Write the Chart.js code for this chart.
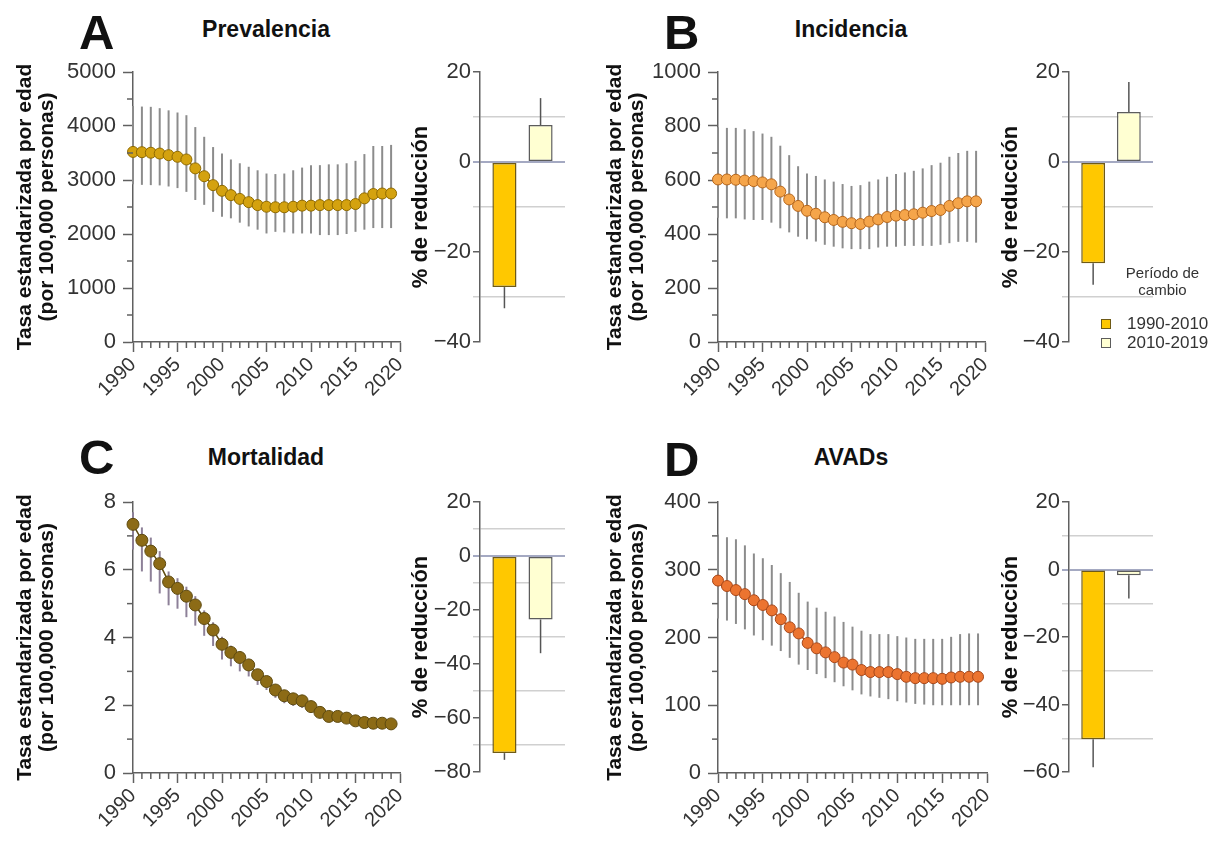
<!DOCTYPE html>
<html>
<head>
<meta charset="utf-8">
<script src="https://cdn.jsdelivr.net/npm/chart.js@4.4.1/dist/chart.umd.min.js"></script>
<style>
  body { margin: 0; background: #fff; width: 1225px; height: 846px; position: relative; overflow: hidden;
         font-family: 'Liberation Sans', Arial, Helvetica, sans-serif; }
  canvas { position: absolute; }
  .letter { position: absolute; font-weight: bold; font-size: 49px; line-height: 1; color: #111; }
  .title { position: absolute; width: 240px; text-align: center; font-weight: bold; font-size: 23px; line-height: 1; color: #111; }
  #legend { position: absolute; left: 1100px; top: 264px; width: 125px; color: #333; }
  #legend .head { text-align: center; font-size: 15px; line-height: 17px; margin-bottom: 16px; }
  #legend .row { display: flex; align-items: center; font-size: 17px; line-height: 19px; }
  #legend .box { width: 8px; height: 8px; border: 1px solid #777; margin: 0 16px 0 1px; }
</style>
</head>
<body>

<div class="letter" style="left:79px;top:8px">A</div>
<div class="letter" style="left:664px;top:8px">B</div>
<div class="letter" style="left:79px;top:433px">C</div>
<div class="letter" style="left:664px;top:435px">D</div>

<div class="title" style="left:146px;top:18px">Prevalencia</div>
<div class="title" style="left:731px;top:18px">Incidencia</div>
<div class="title" style="left:146px;top:446px">Mortalidad</div>
<div class="title" style="left:731px;top:446px">AVADs</div>

<canvas id="lineA"></canvas>
<canvas id="barA"></canvas>
<canvas id="lineB"></canvas>
<canvas id="barB"></canvas>
<canvas id="lineC"></canvas>
<canvas id="barC"></canvas>
<canvas id="lineD"></canvas>
<canvas id="barD"></canvas>

<div id="legend"></div>

<script>
// Age-standardised rates per 100,000, 1990-2019, with uncertainty intervals
const years = [1990, 1991, 1992, 1993, 1994, 1995, 1996, 1997, 1998, 1999,
               2000, 2001, 2002, 2003, 2004, 2005, 2006, 2007, 2008, 2009,
               2010, 2011, 2012, 2013, 2014, 2015, 2016, 2017, 2018, 2019];

const prevalencia = [3520, 3515, 3505, 3490, 3460, 3430, 3380, 3215, 3070, 2905,
                     2800, 2720, 2650, 2590, 2535, 2505, 2495, 2495, 2505, 2525,
                     2525, 2535, 2535, 2535, 2535, 2555, 2660, 2740, 2750, 2750];
const prevalenciaUpper = [4370, 4360, 4355, 4330, 4290, 4250, 4200, 3980, 3800, 3610,
                          3490, 3380, 3310, 3245, 3180, 3120, 3110, 3120, 3180, 3230,
                          3275, 3275, 3290, 3290, 3310, 3355, 3480, 3630, 3630, 3650];
const prevalenciaLower = [2920, 2910, 2905, 2900, 2880, 2850, 2780, 2630, 2540, 2410,
                          2320, 2290, 2210, 2140, 2080, 2010, 2040, 2030, 2010, 2010,
                          2010, 1980, 1980, 1980, 2000, 2040, 2080, 2110, 2110, 2110];

const incidencia = [602, 602, 601, 598, 596, 591, 584, 557, 528, 504,
                    486, 475, 462, 452, 445, 440, 437, 446, 454, 463,
                    468, 470, 473, 479, 485, 489, 504, 514, 521, 521];
const incidenciaUpper = [795, 793, 793, 788, 781, 772, 760, 727, 692, 651,
                         624, 615, 602, 594, 585, 578, 581, 594, 602, 612,
                         622, 628, 634, 643, 655, 664, 686, 700, 708, 708];
const incidenciaLower = [460, 458, 458, 454, 452, 452, 442, 421, 406, 390,
                         381, 372, 360, 353, 347, 344, 344, 344, 350, 353,
                         353, 356, 356, 356, 356, 360, 366, 371, 371, 368];

const mortalidad = [7.34, 6.87, 6.55, 6.18, 5.64, 5.45, 5.22, 4.96, 4.56, 4.22,
                    3.80, 3.56, 3.41, 3.19, 2.90, 2.70, 2.45, 2.28, 2.19, 2.13,
                    1.96, 1.79, 1.67, 1.67, 1.62, 1.54, 1.49, 1.47, 1.47, 1.45];
const mortalidadUpper = [7.70, 7.25, 6.95, 6.55, 5.95, 5.75, 5.50, 5.22, 4.80, 4.45,
                         4.02, 3.76, 3.60, 3.37, 3.06, 2.85, 2.58, 2.40, 2.30, 2.24,
                         2.06, 1.88, 1.76, 1.76, 1.70, 1.62, 1.57, 1.55, 1.55, 1.55];
const mortalidadLower = [6.60, 5.95, 5.65, 5.30, 4.95, 4.85, 4.60, 4.35, 4.05, 3.75,
                         3.35, 3.15, 3.00, 2.85, 2.60, 2.45, 2.22, 2.06, 1.98, 1.92,
                         1.77, 1.62, 1.52, 1.52, 1.48, 1.40, 1.36, 1.34, 1.34, 1.30];

const avads = [284, 276, 270, 264, 255, 248, 240, 227, 215, 206,
               192, 184, 178, 171, 163, 160, 152, 149, 149, 149,
               146, 142, 140, 140, 140, 139, 141, 142, 142, 142];
const avadsUpper = [352, 348, 345, 336, 324, 317, 307, 295, 282, 266,
                    253, 244, 238, 231, 223, 216, 210, 205, 205, 205,
                    202, 200, 198, 198, 198, 198, 201, 205, 206, 206];
const avadsLower = [228, 225, 220, 212, 203, 196, 188, 180, 170, 160,
                    152, 146, 140, 134, 128, 122, 116, 113, 111, 109,
                    106, 104, 102, 101, 100, 100, 100, 100, 100, 100];

// Percent change per period, panels A-D, and the end of each whisker
const periods = ['1990-2010', '2010-2019'];
const change1990_2010 = [-27.8, -22.5, -73.0, -50.3];
const change2010_2019 = [8.2, 11.1, -23.5, -1.7];
const err1990_2010 = [-32.5, -27.3, -75.5, -58.6];
const err2010_2019 = [14.2, 17.8, -36.0, -8.6];

const periodFill = ['#FFC800', '#FFFFD2'];
const periodEdge = ['#6e5a16', '#5c5c5c'];

const yTitleLine = ['Tasa estandarizada por edad', '(por 100,000 personas)'];
const yTitleBar = '% de reducción';

Chart.defaults.font.family = "'Liberation Sans', Arial, Helvetica, sans-serif";
Chart.defaults.color = '#333';

const axisColor = '#606060';

// short unlabeled ticks between the labeled ones
function minorTicks(majorX, majorY) {
  return {
    id: 'minorTicks',
    afterDraw(chart) {
      const ctx = chart.ctx;
      ctx.save();
      ctx.strokeStyle = axisColor;
      ctx.lineWidth = 1.5;
      [['x', majorX], ['y', majorY]].forEach(([id, major]) => {
        const scale = chart.scales[id];
        scale.ticks.forEach(t => {
          const r = t.value / major;
          if (Math.abs(r - Math.round(r)) < 1e-6) return;
          const p = scale.getPixelForValue(t.value);
          ctx.beginPath();
          if (id === 'x') {
            ctx.moveTo(p, scale.top);
            ctx.lineTo(p, scale.top + 6);
          } else {
            ctx.moveTo(scale.right, p);
            ctx.lineTo(scale.right - 6, p);
          }
          ctx.stroke();
        });
      });
      ctx.restore();
    }
  };
}

// vertical uncertainty interval behind each point
function intervalBars(lower, upper, color) {
  return {
    id: 'intervalBars',
    beforeDatasetsDraw(chart) {
      const ctx = chart.ctx, xs = chart.scales.x, ys = chart.scales.y;
      ctx.save();
      ctx.strokeStyle = color;
      ctx.lineWidth = 2;
      years.forEach((yr, i) => {
        const px = xs.getPixelForValue(yr);
        ctx.beginPath();
        ctx.moveTo(px, ys.getPixelForValue(lower[i]));
        ctx.lineTo(px, ys.getPixelForValue(upper[i]));
        ctx.stroke();
      });
      ctx.restore();
    }
  };
}

// one-sided whisker from the end of each bar
function barWhiskers(ends) {
  return {
    id: 'barWhiskers',
    afterDatasetsDraw(chart) {
      const ctx = chart.ctx, ys = chart.scales.y;
      ctx.save();
      ctx.strokeStyle = '#555';
      ctx.lineWidth = 1.5;
      chart.data.datasets.forEach((ds, d) => {
        const bar = chart.getDatasetMeta(d).data[0];
        ctx.beginPath();
        ctx.moveTo(bar.x, bar.y);
        ctx.lineTo(bar.x, ys.getPixelForValue(ends[d]));
        ctx.stroke();
      });
      ctx.restore();
    }
  };
}

function placeCanvas(id, box) {
  const c = document.getElementById(id);
  c.width = box.w;
  c.height = box.h;
  c.style.left = box.left + 'px';
  c.style.top = box.top + 'px';
  return c;
}

function linePanel(id, box, area, values, lower, upper, y, look) {
  const canvas = placeCanvas(id, box);
  return new Chart(canvas, {
    type: 'line',
    data: {
      datasets: [{
        data: years.map((yr, i) => ({ x: yr, y: values[i] })),
        borderColor: look.edge,
        borderWidth: 1.5,
        backgroundColor: look.fill,
        pointBackgroundColor: look.fill,
        pointBorderColor: look.edge,
        pointBorderWidth: 1,
        pointRadius: look.radius,
        clip: false
      }]
    },
    options: {
      responsive: false,
      animation: false,
      events: [],
      layout: { padding: { top: area.top - box.top, right: box.left + box.w - area.right, left: 0, bottom: 0 } },
      plugins: { legend: { display: false }, tooltip: { enabled: false } },
      scales: {
        x: {
          type: 'linear', min: 1990, max: 2020,
          afterFit: s => { s.height = box.top + box.h - area.bottom; },
          border: { color: axisColor, width: 1.5 },
          grid: {
            drawOnChartArea: false, tickLength: 10, tickWidth: 1.5,
            tickColor: c => (c.tick.value % 5 === 0 ? axisColor : 'transparent')
          },
          ticks: {
            stepSize: 1, autoSkip: false, maxRotation: 45, minRotation: 45, padding: 1,
            font: { size: 20 }, color: '#333',
            callback: v => (v % 5 === 0 ? String(v) : '')
          }
        },
        y: {
          min: 0, max: y.max,
          afterFit: s => { s.width = area.left - box.left; },
          border: { color: axisColor, width: 1.5 },
          grid: {
            drawOnChartArea: false, tickLength: 10, tickWidth: 1.5,
            tickColor: c => (c.tick.value % y.major === 0 ? axisColor : 'transparent')
          },
          ticks: {
            stepSize: y.step, autoSkip: false, padding: 7,
            font: { size: 22 }, color: '#333',
            callback: v => (v % y.major === 0 ? String(v) : '')
          },
          title: {
            display: true, text: yTitleLine, color: '#111',
            font: { size: 21, weight: 'bold', lineHeight: 1.05 }, padding: { top: 14, bottom: 0 }
          }
        }
      }
    },
    plugins: [intervalBars(lower, upper, look.whisker), minorTicks(5, y.major)]
  });
}

function fmtPct(v) {
  return v < 0 ? '\u2212' + Math.abs(v) : String(v);
}

function barPanel(id, box, area, i, yMin) {
  const canvas = placeCanvas(id, box);
  const values = [change1990_2010[i], change2010_2019[i]];
  return new Chart(canvas, {
    type: 'bar',
    data: {
      labels: [''],
      datasets: periods.map((p, d) => ({
        label: p,
        data: [values[d]],
        backgroundColor: periodFill[d],
        borderColor: periodEdge[d],
        borderWidth: 1.5,
        borderSkipped: false
      }))
    },
    options: {
      responsive: false,
      animation: false,
      events: [],
      categoryPercentage: 0.85,
      barPercentage: 0.667,
      layout: { padding: { top: area.top - box.top, right: box.left + box.w - area.right,
                           left: 0, bottom: box.top + box.h - area.bottom } },
      plugins: { legend: { display: false }, tooltip: { enabled: false } },
      scales: {
        x: { display: false },
        y: {
          min: yMin, max: 20,
          afterFit: s => { s.width = area.left - box.left; },
          border: { color: axisColor, width: 1.5 },
          grid: {
            tickLength: 7,
            lineWidth: c => (c.tick.value === 0 ? 2 : 1.5),
            color: c => {
              const v = c.tick.value;
              if (v === 0) return '#a4a9c2';
              return Math.abs(v) % 20 === 10 ? '#d0d0d0' : 'transparent';
            },
            tickColor: c => (c.tick.value % 20 === 0 && c.tick.value !== 0 ? axisColor
                             : c.tick.value === 0 ? '#a4a9c2' : '#d0d0d0')
          },
          ticks: {
            stepSize: 10, autoSkip: false, padding: 2,
            font: { size: 22 }, color: '#333',
            callback: v => (v % 20 === 0 ? fmtPct(v) : '')
          },
          title: {
            display: true, text: yTitleBar, color: '#111',
            font: { size: 22, weight: 'bold' }, padding: { top: 8, bottom: 0 }
          }
        }
      }
    },
    plugins: [barWhiskers([err1990_2010[i], err2010_2019[i]])]
  });
}

// top row
linePanel('lineA', { left: 0, top: 40, w: 420, h: 380 }, { left: 133, top: 72, right: 400, bottom: 342 },
  prevalencia, prevalenciaLower, prevalenciaUpper, { max: 5000, step: 500, major: 1000 },
  { fill: '#D4A20F', edge: '#8F6A00', whisker: '#8c8c8c', radius: 5.5 });
barPanel('barA', { left: 400, top: 40, w: 170, h: 380 }, { left: 480, top: 72, right: 565, bottom: 342 }, 0, -40);

linePanel('lineB', { left: 590, top: 40, w: 420, h: 380 }, { left: 718, top: 72, right: 985, bottom: 342 },
  incidencia, incidenciaLower, incidenciaUpper, { max: 1000, step: 100, major: 200 },
  { fill: '#F5A54A', edge: '#B5661C', whisker: '#8c8c8c', radius: 5.5 });
barPanel('barB', { left: 990, top: 40, w: 170, h: 380 }, { left: 1069, top: 72, right: 1153, bottom: 342 }, 1, -40);

// bottom row
linePanel('lineC', { left: 0, top: 470, w: 420, h: 376 }, { left: 133, top: 502, right: 400, bottom: 773 },
  mortalidad, mortalidadLower, mortalidadUpper, { max: 8, step: 1, major: 2 },
  { fill: '#8C6B16', edge: '#5E4A10', whisker: '#8d8098', radius: 6 });
barPanel('barC', { left: 400, top: 470, w: 170, h: 376 }, { left: 480, top: 502, right: 565, bottom: 772 }, 2, -80);

linePanel('lineD', { left: 590, top: 470, w: 420, h: 376 }, { left: 718, top: 502, right: 987, bottom: 773 },
  avads, avadsLower, avadsUpper, { max: 400, step: 50, major: 100 },
  { fill: '#EC7430', edge: '#A8481A', whisker: '#8c8c8c', radius: 5.5 });
barPanel('barD', { left: 990, top: 470, w: 170, h: 376 }, { left: 1069, top: 502, right: 1153, bottom: 772 }, 3, -60);

// period legend, next to panel B
const legend = document.getElementById('legend');
legend.innerHTML = '<div class="head">Período de<br>cambio</div>' +
  periods.map((p, d) =>
    '<div class="row"><span class="box" style="background:' + periodFill[d] +
    ';border-color:' + periodEdge[d] + '"></span>' + p + '</div>').join('');
</script>
</body>
</html>
